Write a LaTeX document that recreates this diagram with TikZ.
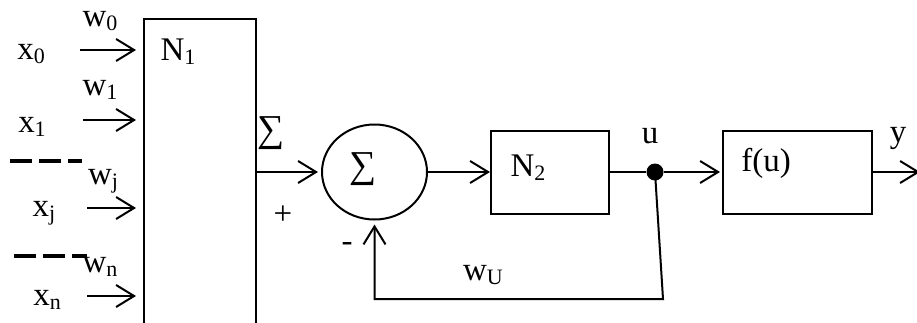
\documentclass[tikz,border=0pt]{standalone}
\usepackage{fontspec}
\setmainfont{Liberation Serif}
\usetikzlibrary{arrows.meta,shapes.geometric}
\newcommand\sbs[1]{\raisebox{-0.13em}{\fontsize{22}{22}\selectfont #1}}
\tikzset{
  ln/.style={line width=2pt},
  arr/.style={ln,-{Straight Barb[length=18pt,width=22pt,line width=2pt]}},
  dsh/.style={line width=3.5pt,dash pattern=on 22pt off 7pt},
  txt/.style={font=\fontsize{33}{40}\selectfont,inner sep=0pt},
  sig/.style={font=\fontsize{38}{44}\selectfont,inner sep=0pt},
  blk/.style={ln,draw,rectangle,inner sep=0pt}
}
\begin{document}
\begin{tikzpicture}[x=1pt,y=-1pt]
\useasboundingbox (0,0) rectangle (917,322);
\clip (0,0) rectangle (917,322);
% N1 block (open below the picture edge)
\node[blk,minimum width=112pt,minimum height=330pt,anchor=north west] (N1) at (143,18) {};
\node[txt] (N1l) at (178,52) {N\sbs{1}};
% inputs
\coordinate (a0) at (80,50);
\coordinate (a1) at (83,120);
\coordinate (aj) at (87,208);
\coordinate (an) at (87,296);
\draw[arr,shorten >=7pt] (a0) -- (a0 -| N1.west);
\draw[arr,shorten >=7pt] (a1) -- (a1 -| N1.west);
\draw[arr,shorten >=7pt] (aj) -- (aj -| N1.west);
\draw[arr,shorten >=7pt] (an) -- (an -| N1.west);
\node[txt] (w0) at (100,21) {w\sbs{0}};
\node[txt] (x0) at (31,54) {x\sbs{0}};
\node[txt] (w1) at (100,90) {w\sbs{1}};
\node[txt] (x1) at (32,127) {x\sbs{1}};
\node[txt] (wj) at (103,181) {w\sbs{j}};
\node[txt] (xj) at (44,213) {x\sbs{j}};
\node[txt] (wn) at (100,267) {w\sbs{n}};
\node[txt] (xn) at (47,300) {x\sbs{n}};
\coordinate (d1a) at (10,161);
\coordinate (d1b) at (82,161);
\coordinate (d2a) at (14,256);
\coordinate (d2b) at (87,256);
\draw[dsh] (d1a) -- (d1b);
\draw[dsh] (d2a) -- (d2b);
% summation
\node[ln,draw,ellipse,minimum width=105pt,minimum height=95pt,inner sep=0pt] (S) at (374.5,172) {};
\node[sig] (Sl) at (363,169) {∑};
\coordinate (o1) at (255,172);
\draw[arr,shorten >=3pt] (o1) -- (o1 -| S.west);
\node[sig] (Sig) at (271,133) {∑};
\node[txt] (plus) at (283,215) {+};
\node[txt] (minus) at (347,247) {-};
% N2
\node[blk,minimum width=118pt,minimum height=83pt,anchor=north west] (N2) at (490,130) {};
\node[txt] (N2l) at (528,168) {N\sbs{2}};
\draw[arr] (S.east) -- (S.east -| N2.west);
% u node
\node[circle,fill=black,minimum size=17pt,inner sep=0pt] (U) at (655,172) {};
\node[txt] (ul) at (650,136) {u};
\draw[ln] (N2.east |- U) -- (U);
% f(u)
\node[blk,minimum width=149pt,minimum height=83pt,anchor=north west] (F) at (722,130) {};
\node[txt] (Fl) at (766,163) {f(u)};
\draw[arr,shorten >=2pt] (U) -- (U -| F.west);
\coordinate (yend) at (920,172);
\draw[arr] (F.east |- yend) -- (yend);
\node[txt] (yl) at (898,138) {y};
% feedback
\coordinate (fb1) at (663,299);
\coordinate (fb2) at (374.5,299);
\draw[arr,shorten >=4pt] (U.center) -- (fb1) -- (fb2) -- (S.south);
\node[txt] (wU) at (483,275) {w\sbs{U}};
\end{tikzpicture}
\end{document}
